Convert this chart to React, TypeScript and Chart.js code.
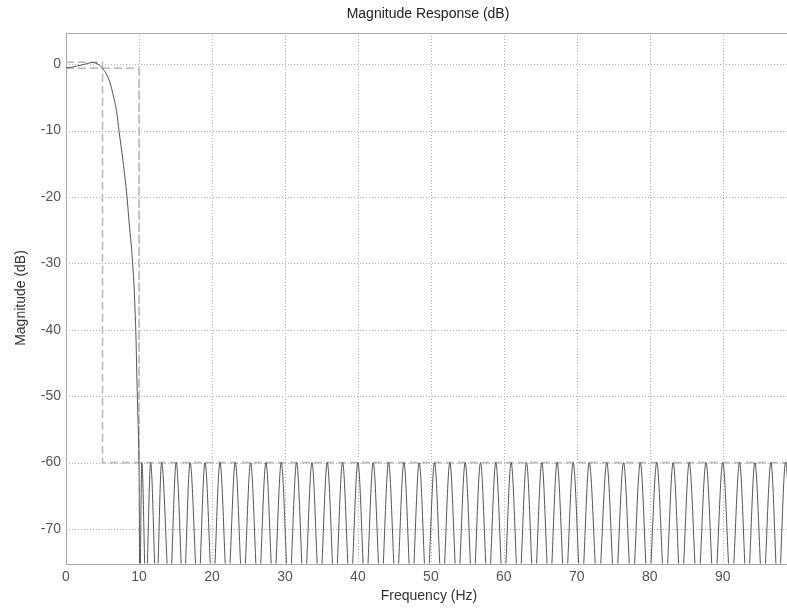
import React, { useEffect, useRef } from 'react';
import { Chart, registerables } from 'chart.js';

Chart.register(...registerables);

// Axis ranges and ticks
const X_MIN = 0;
const X_MAX = 98.8;
const Y_MIN = -75.2;
const Y_MAX = 4.7;
const xTicks = [0, 10, 20, 30, 40, 50, 60, 70, 80, 90];
const yTicks = [0, -10, -20, -30, -40, -50, -60, -70];

// Passband + transition band of the magnitude response (Hz, dB)
const transFreq = [0, 0.8, 1.6, 2.4, 3.0, 3.6, 4.1, 4.6, 5.0, 5.5, 6.0, 6.5, 7.0, 7.26, 7.8, 8.36, 8.7, 9.0, 9.14, 9.28, 9.46, 9.6, 9.73, 9.85, 9.97, 10.03];
const transMag = [-0.55, -0.45, -0.25, -0.05, 0.12, 0.25, 0.15, -0.15, -0.6, -1.4, -2.7, -4.8, -7.6, -10, -14.5, -20, -24.5, -28, -30.2, -32.5, -37, -41.6, -48, -53, -58, -63];

// Stopband ripple: lobe peaks (Hz, dB)
const lobePeakFreq = [10.4, 11.6, 13.1, 15.1, 17.0, 19.05, 21.1, 23.2, 25.3, 27.4, 29.5, 31.6, 33.7, 35.8, 37.9, 40.0, 42.1, 44.2, 46.3, 48.4, 50.5, 52.6, 54.7, 56.8, 58.9, 61.0, 63.1, 65.2, 67.3, 69.5, 71.7, 74.1, 76.4, 78.7, 80.95, 83.2, 85.4, 87.7, 90.0, 92.3, 94.4, 96.6, 98.6];
const lobePeakMag = [-60, -60, -60, -60, -60, -60, -60, -60, -60, -60, -60, -60, -60, -60, -60, -60, -60, -60, -60, -60, -60, -60, -60, -60, -60, -60, -60, -60, -60, -60, -60, -60, -60, -60, -60, -60, -60, -60, -60, -60, -60, -60, -60];
// Stopband nulls (Hz, dB) — one before each peak plus a final one
const lobeNullFreq = [10.1, 10.95, 12.4, 14.2, 16.1, 18.1, 20.1, 22.15, 24.25, 26.35, 28.45, 30.55, 32.65, 34.75, 36.85, 38.95, 41.05, 43.15, 45.25, 47.35, 49.45, 51.55, 53.65, 55.75, 57.85, 59.95, 62.05, 64.15, 66.25, 68.4, 70.6, 72.9, 75.25, 77.55, 79.8, 82.1, 84.3, 86.55, 88.85, 91.15, 93.35, 95.5, 97.6, 99.6];
const lobeNullMag = [-80, -80, -80, -80, -80, -80, -80, -80, -80, -80, -80, -80, -80, -80, -80, -80, -80, -80, -80, -80, -80, -80, -80, -80, -80, -80, -80, -80, -80, -80, -80, -80, -80, -80, -80, -80, -80, -80, -80, -80, -80, -80, -80, -80];

// Specification mask (dashed)
const maskUpperFreq = [0, 5, 5, 98.8];
const maskUpperMag = [0.3, 0.3, -60, -60];
const maskLowerFreq = [0, 10, 10];
const maskLowerMag = [-0.6, -0.6, -60];

const TITLE = 'Magnitude Response (dB)';
const X_LABEL = 'Frequency (Hz)';
const Y_LABEL = 'Magnitude (dB)';
const FONT = '"Liberation Sans", Arial, Helvetica, sans-serif';

function buildResponse() {
  const pts: { x: number; y: number }[] = [];
  transFreq.forEach((f, i) => pts.push({ x: f, y: transMag[i] }));
  lobePeakFreq.forEach((f, i) => {
    pts.push({ x: lobeNullFreq[i], y: lobeNullMag[i] });
    pts.push({ x: f, y: lobePeakMag[i] });
  });
  const last = lobeNullFreq.length - 1;
  pts.push({ x: lobeNullFreq[last], y: lobeNullMag[last] });
  return pts;
}

const zip = (xs: number[], ys: number[]) => xs.map((x, i) => ({ x, y: ys[i] }));

const framePlugin = {
  id: 'frame',
  beforeDatasetsDraw(chart: any) {
    const { ctx, chartArea: a, scales } = chart;
    const x = scales.x;
    const y = scales.y;
    ctx.save();
    ctx.lineWidth = 1;
    ctx.strokeStyle = '#b0b0b0';
    ctx.setLineDash([1, 2]);
    ctx.beginPath();
    for (const v of xTicks) {
      if (v === X_MIN) continue;
      const px = Math.round(x.getPixelForValue(v)) + 0.5;
      ctx.moveTo(px, a.top);
      ctx.lineTo(px, a.bottom);
    }
    for (const v of yTicks) {
      const py = Math.round(y.getPixelForValue(v)) + 0.5;
      ctx.moveTo(a.left, py);
      ctx.lineTo(a.right, py);
    }
    ctx.stroke();
    ctx.setLineDash([]);
    ctx.strokeStyle = '#a8a8a8';
    ctx.strokeRect(Math.round(a.left) + 0.5, Math.round(a.top) + 0.5, a.right - a.left, Math.round(a.bottom - a.top));
    ctx.restore();
  },
  afterDraw(chart: any) {
    const { ctx } = chart;
    ctx.save();
    ctx.fillStyle = '#222';
    ctx.textAlign = 'center';
    ctx.textBaseline = 'middle';
    ctx.font = `14px ${FONT}`;
    ctx.fillText(TITLE, 428, 14);
    ctx.fillStyle = '#333';
    ctx.fillText(X_LABEL, 429, 596);
    ctx.translate(21, 298);
    ctx.rotate(-Math.PI / 2);
    ctx.fillText(Y_LABEL, 0, 0);
    ctx.restore();
  },
};

export default function App() {
  const ref = useRef<HTMLCanvasElement | null>(null);
  useEffect(() => {
    document.body.style.margin = '0';
    const canvas = ref.current!;
    const chart = new Chart(canvas, {
      type: 'line',
      data: {
        datasets: [
          {
            data: buildResponse(),
            borderColor: '#555',
            borderWidth: 1,
            pointRadius: 0,
            cubicInterpolationMode: 'monotone',
            fill: false,
            order: 0,
          },
          {
            data: zip(maskUpperFreq, maskUpperMag),
            borderColor: '#b8b8b8',
            borderWidth: 1.6,
            borderDash: [8, 4],
            pointRadius: 0,
            fill: false,
            order: 1,
          },
          {
            data: zip(maskLowerFreq, maskLowerMag),
            borderColor: '#b8b8b8',
            borderWidth: 1.6,
            borderDash: [8, 4],
            pointRadius: 0,
            fill: false,
            order: 1,
          },
        ],
      },
      options: {
        animation: false,
        responsive: false,
        maintainAspectRatio: false,
        layout: { padding: { top: 33, left: 0, right: 0, bottom: 0 } },
        plugins: { legend: { display: false }, title: { display: false }, tooltip: { enabled: false } },
        scales: {
          x: {
            type: 'linear',
            min: X_MIN,
            max: X_MAX,
            grid: { display: false, drawTicks: false },
            border: { display: false },
            afterFit: (s: any) => { s.height = 46.5; },
            afterBuildTicks: (s: any) => { s.ticks = xTicks.map((v) => ({ value: v })); },
            ticks: {
              padding: 5,
              color: '#555',
              font: { family: FONT, size: 14 },
              maxRotation: 0,
              autoSkip: false,
              includeBounds: false,
              callback: (v: any) => String(v),
            },
          },
          y: {
            type: 'linear',
            min: Y_MIN,
            max: Y_MAX,
            grid: { display: false, drawTicks: false },
            border: { display: false },
            afterFit: (s: any) => { s.width = 66; },
            afterBuildTicks: (s: any) => { s.ticks = yTicks.map((v) => ({ value: v })); },
            ticks: {
              padding: 5,
              color: '#555',
              font: { family: FONT, size: 14 },
              autoSkip: false,
              includeBounds: false,
              callback: (v: any) => String(v),
            },
          },
        },
      },
      plugins: [framePlugin],
    });
    return () => chart.destroy();
  }, []);
  return <canvas ref={ref} width={787} height={610} style={{ display: 'block' }} />;
}
